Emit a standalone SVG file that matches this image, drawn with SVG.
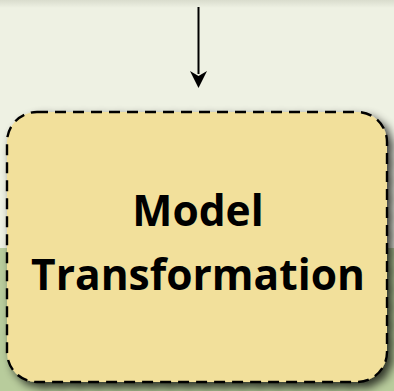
<svg xmlns="http://www.w3.org/2000/svg" width="394" height="391" viewBox="0 0 394 391">
<defs>
<linearGradient id="topband" x1="0" y1="0" x2="0" y2="1">
<stop offset="0" stop-color="#d9dccd"/>
<stop offset="1" stop-color="#eef1e3"/>
</linearGradient>
<filter id="shadow" x="-10%" y="-10%" width="130%" height="130%">
<feGaussianBlur in="SourceAlpha" stdDeviation="5"/>
<feOffset dx="5" dy="5" result="b"/>
<feComponentTransfer><feFuncA type="linear" slope="0.75"/></feComponentTransfer>
<feMerge><feMergeNode/><feMergeNode in="SourceGraphic"/></feMerge>
</filter>
<style>
.node-box{fill:#f2e09b;stroke:#000;stroke-width:2.4;stroke-dasharray:11,7}
.label{font-family:"Open Sans",Lato,sans-serif;font-weight:bold;font-size:42.5px;fill:#000;text-anchor:middle;font-variant-ligatures:none}
.conn{stroke:#000;stroke-width:2;fill:none}
</style>
</defs>
<rect x="0" y="0" width="394" height="391" fill="#eef1e3"/>
<rect x="0" y="0" width="394" height="8" fill="url(#topband)"/>
<rect x="0" y="248" width="394" height="143" fill="#b8cc9c"/>
<g id="connectors">
<line class="conn" x1="198.5" y1="7" x2="198.5" y2="74"/>
<path d="M190,71 L198.5,88 L207,71 L198.5,76 Z" fill="#000"/>
</g>
<g id="node-model-transformation">
<rect class="node-box" x="7" y="112" width="380" height="270" rx="30" ry="30" filter="url(#shadow)"/>
<text class="label" x="198" y="226">Model</text>
<text class="label" x="198" y="290">Transformation</text>
</g>
</svg>
